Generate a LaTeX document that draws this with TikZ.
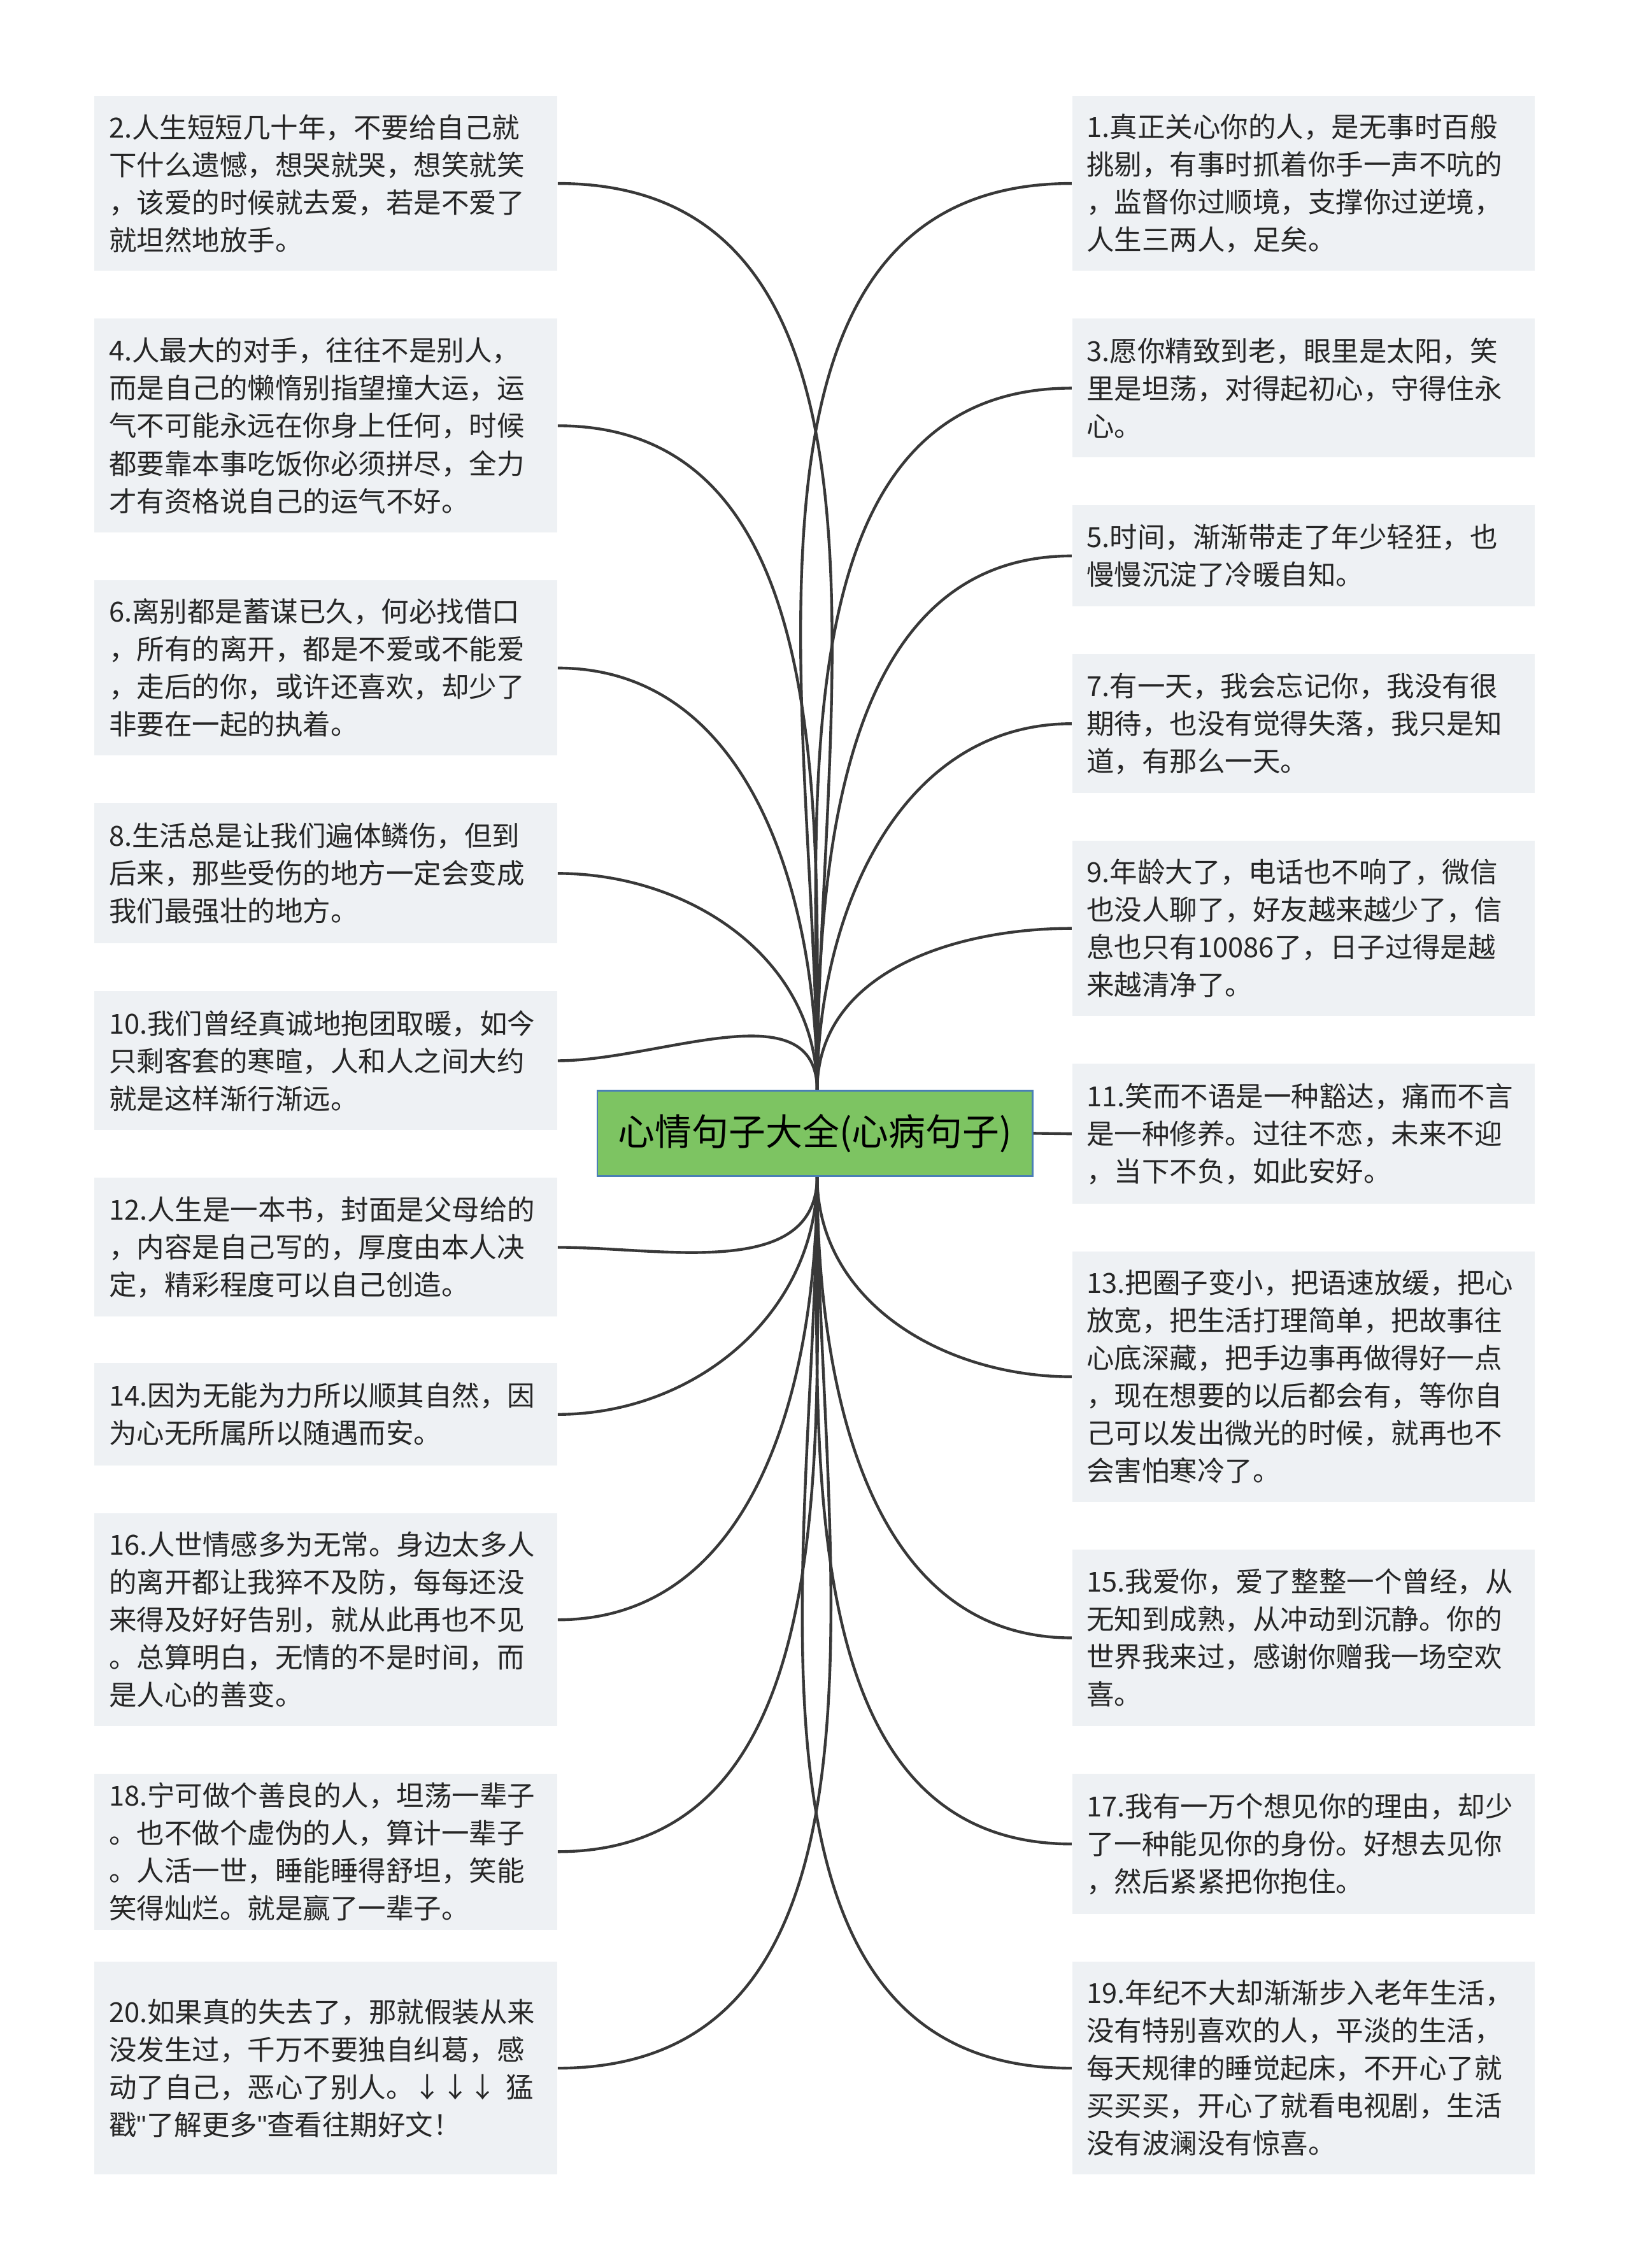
\documentclass[tikz,border=0pt]{standalone}
\usepackage{fontspec}
\setmainfont{Noto Sans CJK SC}
\newfontfamily\latinfont{Liberation Sans}
\usetikzlibrary{positioning}
\definecolor{boxgray}{HTML}{EEF1F4}
\definecolor{rootgreen}{HTML}{7DC462}
\definecolor{rootline}{HTML}{4A7FB5}
\definecolor{linkgray}{HTML}{383838}
\newcommand\dq{{\latinfont\symbol{34}}}
\tikzset{
  quote/.style={fill=boxgray, anchor=north west, minimum width=6.4cm, text width=6.0cm,
    inner xsep=0.2cm, align=left, font=\fontsize{10.9}{14.8}\selectfont, text=black!85},
  root/.style={fill=rootgreen, draw=rootline, line width=0.6pt, minimum width=6.02cm,
    minimum height=1.18cm, font=\fontsize{14.5}{16}\selectfont},
  link/.style={draw=linkgray, line width=1.1pt}
}
\begin{document}
\begin{tikzpicture}[x=0.02cm,y=-0.02cm]
  \useasboundingbox[fill=white] (0,0) rectangle (1126,1568);
  % left column
  \node[quote, minimum height=2.42cm] (q2) at (65,66) {2.人生短短几十年，不要给自己就\\下什么遗憾，想哭就哭，想笑就笑\\，该爱的时候就去爱，若是不爱了\\就坦然地放手。};
  \node[quote, minimum height=2.96cm] (q4) at (65,220) {4.人最大的对手，往往不是别人，\\而是自己的懒惰别指望撞大运，运\\气不可能永远在你身上任何，时候\\都要靠本事吃饭你必须拼尽，全力\\才有资格说自己的运气不好。};
  \node[quote, minimum height=2.42cm] (q6) at (65,401) {6.离别都是蓄谋已久，何必找借口\\，所有的离开，都是不爱或不能爱\\，走后的你，或许还喜欢，却少了\\非要在一起的执着。};
  \node[quote, minimum height=1.94cm] (q8) at (65,555) {8.生活总是让我们遍体鳞伤，但到\\后来，那些受伤的地方一定会变成\\我们最强壮的地方。};
  \node[quote, minimum height=1.92cm] (q10) at (65,685) {10.我们曾经真诚地抱团取暖，如今\\只剩客套的寒暄，人和人之间大约\\就是这样渐行渐远。};
  \node[quote, minimum height=1.92cm] (q12) at (65,814) {12.人生是一本书，封面是父母给的\\，内容是自己写的，厚度由本人决\\定，精彩程度可以自己创造。};
  \node[quote, minimum height=1.42cm] (q14) at (65,942) {14.因为无能为力所以顺其自然，因\\为心无所属所以随遇而安。};
  \node[quote, minimum height=2.94cm] (q16) at (65,1046) {16.人世情感多为无常。身边太多人\\的离开都让我猝不及防，每每还没\\来得及好好告别，就从此再也不见\\。总算明白，无情的不是时间，而\\是人心的善变。};
  \node[quote, minimum height=1.94cm] (q18) at (65,1226) {18.宁可做个善良的人，坦荡一辈子\\。也不做个虚伪的人，算计一辈子\\。人活一世，睡能睡得舒坦，笑能\\笑得灿烂。就是赢了一辈子。};
  \node[quote, minimum height=2.94cm] (q20) at (65,1356) {20.如果真的失去了，那就假装从来\\没发生过，千万不要独自纠葛，感\\动了自己，恶心了别人。↓↓↓ 猛\\戳\dq 了解更多\dq 查看往期好文！};
  % right column
  \node[quote, minimum height=2.42cm] (q1) at (741,66) {1.真正关心你的人，是无事时百般\\挑剔，有事时抓着你手一声不吭的\\，监督你过顺境，支撑你过逆境，\\人生三两人，足矣。};
  \node[quote, minimum height=1.92cm] (q3) at (741,220) {3.愿你精致到老，眼里是太阳，笑\\里是坦荡，对得起初心，守得住永\\心。};
  \node[quote, minimum height=1.40cm] (q5) at (741,349) {5.时间，渐渐带走了年少轻狂，也\\慢慢沉淀了冷暖自知。};
  \node[quote, minimum height=1.92cm] (q7) at (741,452) {7.有一天，我会忘记你，我没有很\\期待，也没有觉得失落，我只是知\\道，有那么一天。};
  \node[quote, minimum height=2.42cm] (q9) at (741,581) {9.年龄大了，电话也不响了，微信\\也没人聊了，好友越来越少了，信\\息也只有10086了，日子过得是越\\来越清净了。};
  \node[quote, minimum height=1.94cm] (q11) at (741,735) {11.笑而不语是一种豁达，痛而不言\\是一种修养。过往不恋，未来不迎\\，当下不负，如此安好。};
  \node[quote, minimum height=3.46cm] (q13) at (741,865) {13.把圈子变小，把语速放缓，把心\\放宽，把生活打理简单，把故事往\\心底深藏，把手边事再做得好一点\\，现在想要的以后都会有，等你自\\己可以发出微光的时候，就再也不\\会害怕寒冷了。};
  \node[quote, minimum height=2.44cm] (q15) at (741,1071) {15.我爱你，爱了整整一个曾经，从\\无知到成熟，从冲动到沉静。你的\\世界我来过，感谢你赠我一场空欢\\喜。};
  \node[quote, minimum height=1.94cm] (q17) at (741,1226) {17.我有一万个想见你的理由，却少\\了一种能见你的身份。好想去见你\\，然后紧紧把你抱住。};
  \node[quote, minimum height=2.94cm] (q19) at (741,1356) {19.年纪不大却渐渐步入老年生活，\\没有特别喜欢的人，平淡的生活，\\每天规律的睡觉起床，不开心了就\\买买买，开心了就看电视剧，生活\\没有波澜没有惊喜。};
  % hub points
  \coordinate (top) at (565,754);
  \coordinate (bot) at (565,813);
  % links
  \foreach \q in {q2,q4,q6,q8,q10}
    \draw[link] (\q.east) to[out=0,in=90] (top);
  \foreach \q in {q12,q14,q16,q18,q20}
    \draw[link] (\q.east) to[out=0,in=-90] (bot);
  \foreach \q in {q1,q3,q5,q7,q9}
    \draw[link] (\q.west) to[out=180,in=90] (top);
  \foreach \q in {q13,q15,q17,q19}
    \draw[link] (\q.west) to[out=180,in=-90] (bot);
  \node[root] (center) at (563.5,783.5) {心情句子大全(心病句子)};
  \draw[link] (q11.west) -- (center.east);
\end{tikzpicture}
\end{document}
